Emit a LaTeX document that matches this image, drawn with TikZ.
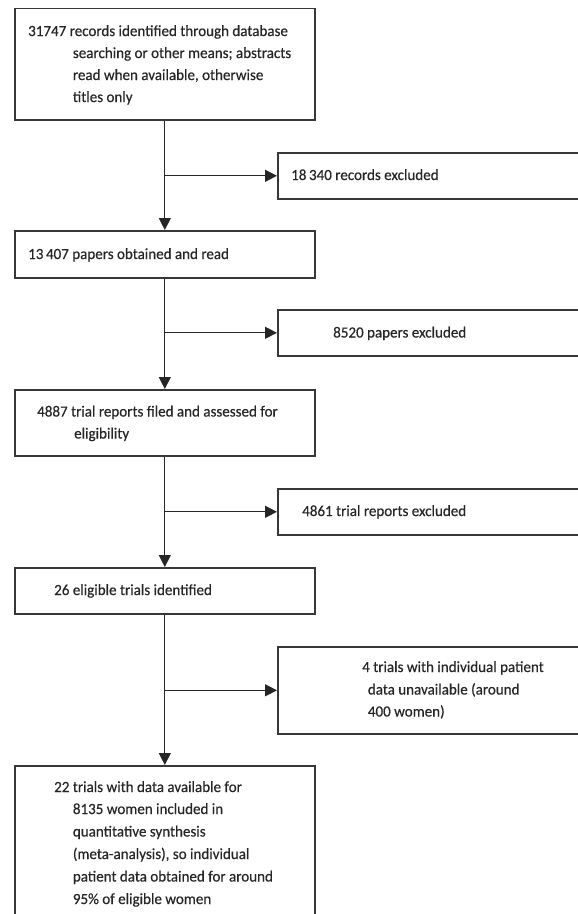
\documentclass[tikz,border=0pt]{standalone}
\usepackage{fontspec}
\setmainfont{Carlito}[FakeBold=0.45,FakeStretch=0.97]
\usetikzlibrary{arrows.meta}
\begin{document}
\begin{tikzpicture}[x=1pt,y=-1pt,
  box/.style={draw=black!78, line width=1.6pt, inner sep=0pt, anchor=north west},
  txt/.style={inner sep=0pt, anchor=base west, font=\fontsize{15.5}{22}\selectfont, text=black!85},
  arr/.style={draw=black!85, line width=1.3pt, -{Triangle[length=12pt,width=12pt]}}]
\useasboundingbox (0,0) rectangle (578,914);
\clip (0,0) rectangle (578,914);
% main boxes
\node[box, minimum width=300pt, minimum height=111.5pt] (b1) at (14,7.5) {};
\node[box, minimum width=300pt, minimum height=47pt] (b2) at (14,230) {};
\node[box, minimum width=300pt, minimum height=66pt] (b3) at (14,389) {};
\node[box, minimum width=300pt, minimum height=46pt] (b4) at (14,567) {};
\node[box, minimum width=300pt, minimum height=185pt] (b5) at (14,765) {};
% exclusion boxes
\node[box, minimum width=330pt, minimum height=46pt] (e1) at (277,152) {};
\node[box, minimum width=330pt, minimum height=46pt] (e2) at (277,309) {};
\node[box, minimum width=330pt, minimum height=46pt] (e3) at (277,488) {};
\node[box, minimum width=330pt, minimum height=87pt] (e4) at (277,646) {};
% texts
\node[txt] (t1a) at (28,36) {31747 records identified through database};
\node[txt] (t1b) at (72.7,58) {searching or other means; abstracts};
\node[txt] (t1c) at (72.7,80) {read when available, otherwise};
\node[txt] (t1d) at (72.7,102) {titles only};
\node[txt] (te1) at (291,180) {18\,340 records excluded};
\node[txt] (t2) at (28,259) {13\,407 papers obtained and read};
\node[txt] (te2) at (333,337.5) {8520 papers excluded};
\node[txt] (t3a) at (37,416.5) {4887 trial reports filed and assessed for};
\node[txt] (t3b) at (74,438.5) {eligibility};
\node[txt] (te3) at (302,516) {4861 trial reports excluded};
\node[txt] (t4) at (54,595) {26 eligible trials identified};
\node[txt] (te4a) at (362,672) {4 trials with individual patient};
\node[txt] (te4b) at (367.7,694.5) {data unavailable (around};
\node[txt] (te4c) at (367.7,716.5) {400 women)};
\node[txt] (t5a) at (54,792) {22 trials with data available for};
\node[txt] (t5b) at (72.7,814) {8135 women included in};
\node[txt] (t5c) at (72.7,836.5) {quantitative synthesis};
\node[txt] (t5d) at (72.7,859) {(meta-analysis), so individual};
\node[txt] (t5e) at (72.7,881.5) {patient data obtained for around};
\node[txt] (t5f) at (72.7,904) {95\% of eligible women};
% connectors
\draw[arr] (b1.south) -- (b2.north);
\draw[arr] (b2.south) -- (b3.north);
\draw[arr] (b3.south) -- (b4.north);
\draw[arr] (b4.south) -- (b5.north);
\draw[arr] (b1.south |- e1.west) -- (e1.west);
\draw[arr] (b2.south |- e2.west) -- (e2.west);
\draw[arr] (b3.south |- e3.west) -- (e3.west);
\draw[arr] (b4.south |- e4.west) -- (e4.west);
\end{tikzpicture}
\end{document}
